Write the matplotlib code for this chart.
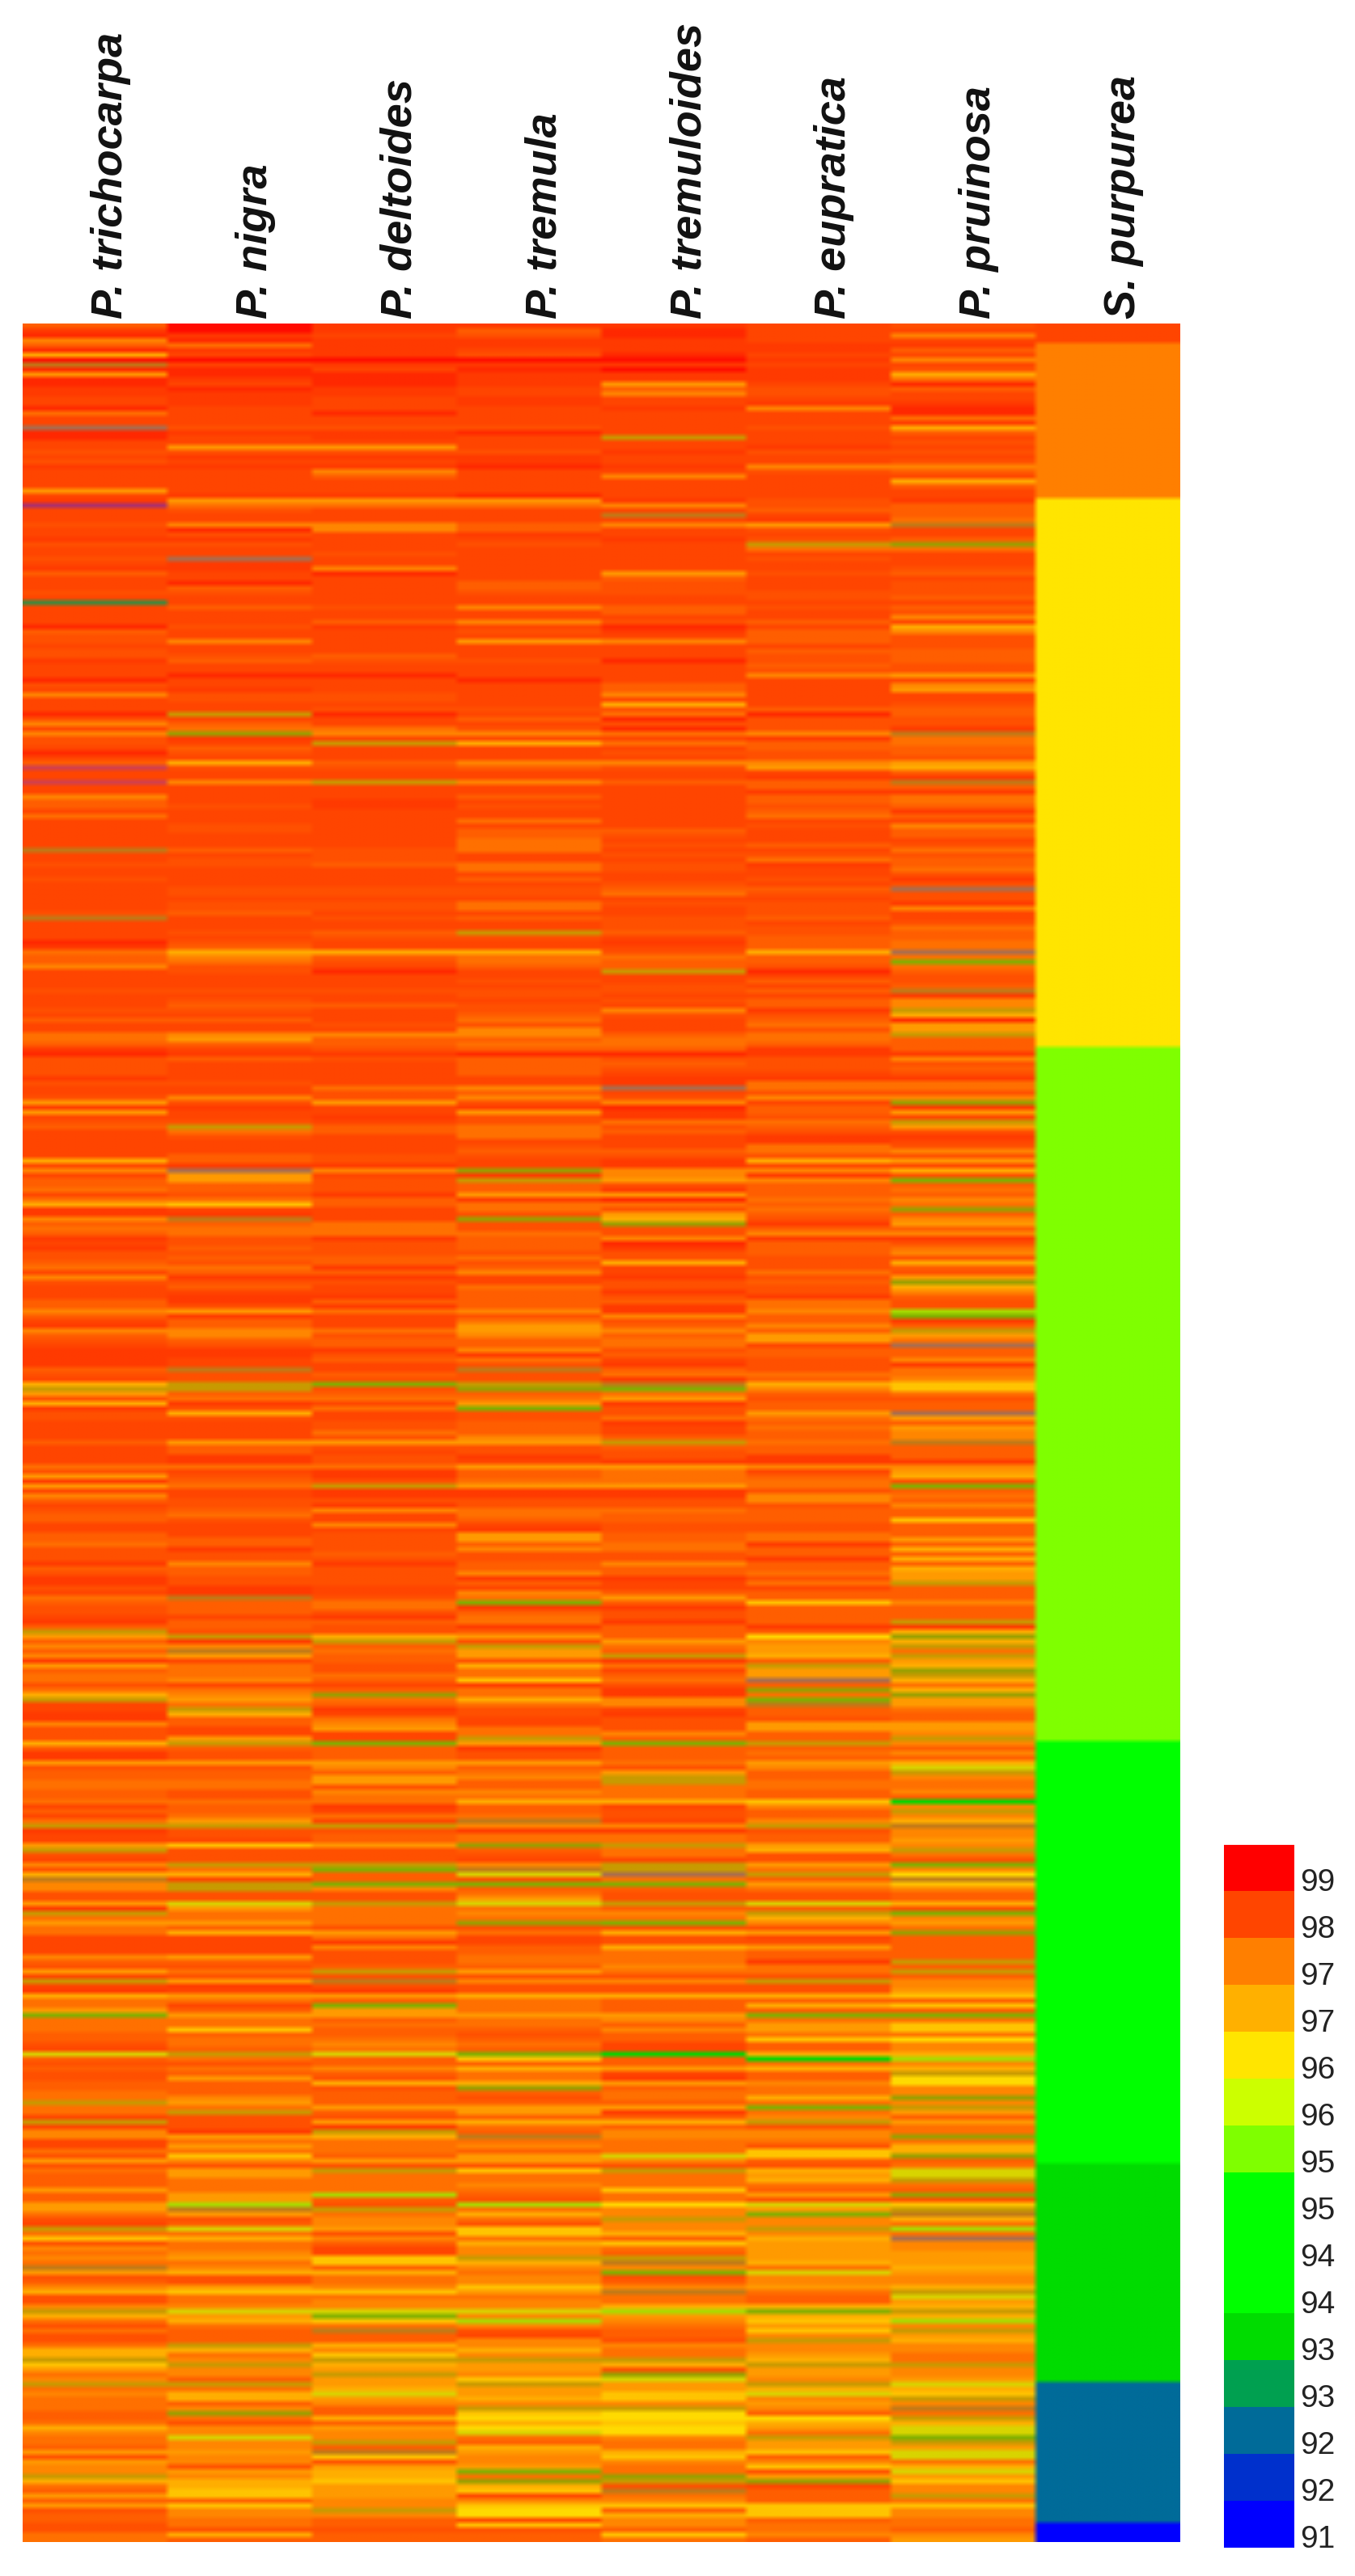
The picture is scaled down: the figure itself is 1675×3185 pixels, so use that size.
import matplotlib
matplotlib.use('Agg')
import matplotlib.pyplot as plt
import numpy as np
from matplotlib.colors import ListedColormap

plt.rcParams['font.family'] = ['Liberation Sans', 'DejaVu Sans']

species = ['P. trichocarpa', 'P. nigra', 'P. deltoides', 'P. tremula',
           'P. tremuloides', 'P. eupratica', 'P. pruinosa', 'S. purpurea']

# one letter = one shade, top to bottom
letters = 'abcdefghijklmnopqrstuvwABCDEGL'
shades = ['#FF0C00', '#FF2800', '#FF3A00', '#FF4500', '#FF5000', '#FF5E00', '#FF7000', '#FF8600',
          '#FF9A00', '#FFAE00', '#FFC400', '#FFDA00', '#D8D400', '#A8DC00', '#80B000', '#00D800',
          '#C89A00', '#C07A18', '#A86E50', '#A83070', '#98A000', '#3A8A40', '#D04050',
          '#7FFF00', '#00FF00', '#00DC00', '#006B99', '#0000FF', '#FF7F00', '#FFE500']

trichocarpa = [
    'fcbhfbjarb ibbccddbgd dsbbddedec ddddidctdd deddcedded',
    'cfdddedvdd ddbfeedeec dddbedhddd behdheedbd fwddwddhff',
    'dgddddddrd deddeddddd derddddbcg ffhddddedd dedfddggfc',
    'beeeecedde icidefdddd ddjdhdffgd gjcchfgfcd ceefgdhedd',
    'dffhfdchfe dccccfedjq iejceedddd fddddgeici dhfdeffddf',
    'fgeeecfecc edgfeedcfq ifhfhcifgg egjqddcche eejfccieff',
    'ggffgdfdgq cddiqedhej rhheeicqgi ggddddhfei dqdcjggiog',
    'ggffedmfef eeffggqggd qdhhddgeie gfffiffiig edqgkehghg',
    'riefhjeehq jgegeegjjq kighqghggg ffgjhggfie ihhqjgfifi effeegg',
]
nigra = [
    'aacbgcdadb bcdbcccddd decddiecdc dddddciged dhbeceddsc',
    'cddbfeddfd ddeddhddef ddbddceedd qdfgucdfed jeddhdddde',
    'dddeedddfd eeddddeede efdddedefj hgeedddede fedfddhifd',
    'cfddddeddh ecddeqgedd dffcsiiffe gkdcrfggee fefegfcefd',
    'cceicffhhf eccddreeqq fgcejedddd iffccgdefg ddeefgeddd',
    'ffceehffee ccrfffdffe qchridgggh dghigqjffd diqfeeieff',
    'ggeegffgiq eedkeeeqgj dqqeemiggi fjddddifeg eicdigdfig',
    'gkfggfqgeg fifffhigqe eecigigkhe iigggiinri efmgjgghig',
    'hjeeikgghm ijgfffqjgh qhhfqgjjfh ugehhmhhih heihjjkkfk hhggejf',
]
deltoides = [
    'ccdccccacd bbbccdddbd deccdiecdc hfdddcigdd dhhddddedd',
    'hbdddddded dfcdddddfe ddbdddeede bddghdqddd feddqdddcc',
    'ddddddddee efddddeede ededdfeddj fedbdddedd fdddedhffe',
    'cedddddgee iddcdffddd deechdeeec ffdddgggce eeffcfcedd',
    'cfcgdddgef fcefddfeoe fgdgddeege iedeegcceq ccechddhde',
    'eeefeceeee ddeggecfee jqfgffeegf dfugfcdghi ddofffihfi',
    'iehggcdgdq effieeeqof foheeqgggg eigcheeefq erecifoiif',
    'gffghgmffh fejefffife icqjgggfie qggggnfeqg hhiehfddkk',
    'fjgghkghhm okgrffjhkq jiqiijmihf fjfihhqfrk eijjkiiihh qhffeff',
]
tremula = [
    'cfeccdeacb cccddccddd debdddeccb dddddbigdd dffcdedddd',
    'dddffeddhd dhdediddde dddbddddde dfdehdjddd hfddhddfde',
    'ddgdffgggd dggdfdeedg gdfddqeddj ggfddedeed eefgehhfgf',
    'bffffddhfh ecieegggde fedducqffi cggeueegff fegefhddgf',
    'fffhegiihf fhcgereequ fgioeefffh ieecdiffgi cceeggfdci',
    'ifheeffhcf dhgocfggcf ieqiiejggk cggjgeeddg gqiceeifgh',
    'ffhgjffgrh cggufedhrm eofgimghgu egddffggfi eheejgggig',
    'gfefgfokfj ggjufefiif jgfrghfiie kgghgfengj gekkgjhhqj',
    'hghhkighhm hnhedhhjhq iihkqiijhq kljlmgfjih hiogujkdhk lldkeff',
]
tremuloides = [
    'cbbcccbaca ccifhddcdd dddqddcddc dhddddchdr dhddcddddd',
    'difeeeddff debcdhdddb ddddffhdje gbebgdgded heddfddddd',
    'ddddfedede deeddefgde ddeeefdcde gffqddeede dhedddfggf',
    'befedccsde hbccgefddd fecchhieci bgeijueehb ceejddceec',
    'efcchefhfg gefdcfgcro giceegcddf qfeecigggi cceegffeef',
    'fggeehffcd dfifceecff figfqcgdfg ecchhdceee hfofffgeiq',
    'qgggjdeedh cggqggdqqs gofeeqfhgo ejeejggghg eheejfffih',
    'fhffddpffi dcifggficf jfhhgggmhe qgggkgglhh qhhjfkgfqr',
    'hoefhrggjn ihgffehggq jeumiikkhq llkllhggjk hgguqerghk fjhhfkg',
]
eupratica = [
    'ddddccdcdc ccdeedchdd dedddceddh edddddeefd ciedeqgded',
    'dedddeeded dfdfffdfee fehddddddf beeehcffee hidcffcffe',
    'fgdedddfde gcddedfede eefdeefffj ffebdfdfdf fcefgeggfc',
    'ceeedcggeh dffegfeccg gejdhchfff gfgfecfhcf ffeeegefee',
    'cgghffhfii dffeeegfjh feffigfgff gffcchdfgg ehhefffeeg',
    'gcffcffgeg dffkffffcf lhiijfqiis fugorffeii ffqfgfihff',
    'ggffkhffhq effijeeigq figeemfqjh eideiffcgg eqeejfjfog',
    'iigkffjpgj ffhggjgogh qehhgekkfe jijgfiemio hhqhjiiiij',
    'gmhhigffjo jkikhqhhij qiihqjmhih fljigqiikf hkeiudfffk kkfgghf',
]
pruinosa = [
    'edhdcfdhde jgbfddcbbg cjfdededeh fdjfddcfff grddfugddd',
    'efdeeefdfe hdjheeefff eeidhiddef feecrggffe ijfcrfcggf',
    'cfdhffdege ffgeceseec hddegffggs gogfeefrch hqjbiiqfff',
    'chefecggeh ucidqiecde heidjeofgf hgufhifhce ghejfeiujh',
    'feenocfqig sffhcgghkk geffsifihh rfffchijeo fgfhffkfff',
    'ifjfjfjiiq fffhfffqcj ujqgqijuqj gjuiigffii hqhfhfjmqh',
    'gghfphqhjr hhihqgeohl rkhffjeohi gufffffqfq fhhikfkfog',
    'kkglhhjnhj qllhhuhqif iggugjjufg mmqgfuekqr jgngshhiii',
    'jihhjqmijq jnhqijhhgg qhhimjkqhr gqjmmoqimm gjmikhhqgk hhggfhi',
]
# S. purpurea is solid blocks: shade, number of rows
purpurea_shades = ['d', 'G', 'L', 'A', 'B', 'C', 'D', 'E']
purpurea_rows = [4, 32, 113, 143, 87, 45, 29, 4]

bar_colors = ['#FF0000', '#FF4500', '#FF7F00', '#FFB000', '#FFE500', '#CCFF00', '#7FFF00', '#00FF00',
              '#00FF00', '#00FF00', '#00DC00', '#00A050', '#006B99', '#0030CC', '#0000FF']
bar_labels = ['99', '98', '97', '97', '96', '96', '95', '95', '94', '94', '93', '93', '92', '92', '91']


def to_row(segments):
    # every zoomed strip is 50 rows, the last one 57; pad or cut small miscounts
    out = ''
    for i, seg in enumerate(segments):
        seg = seg.replace(' ', '')
        n = 57 if i == len(segments) - 1 else 50
        out += (seg + seg[-1] * n)[:n]
    return [letters.index(c) for c in out]


columns = [to_row(c) for c in [trichocarpa, nigra, deltoides, tremula, tremuloides, eupratica, pruinosa]]
last = []
for s, n in zip(purpurea_shades, purpurea_rows):
    last += [letters.index(s)] * n
columns.append(last)
grid = np.array(columns).T

fig = plt.figure(figsize=(16.75, 31.85), dpi=100)
W, H = 1675, 3185

ax = fig.add_axes([28 / W, 1 - 3143 / H, (1459 - 28) / W, (3143 - 400) / H])
cmap = ListedColormap(shades)
# repeat columns so the smoothing only softens the column edges a little
ax.imshow(np.repeat(grid, 24, axis=1), cmap=cmap, vmin=-0.5, vmax=len(shades) - 0.5, aspect='auto',
          interpolation='bilinear', interpolation_stage='rgba',
          extent=(0, len(species), grid.shape[0], 0))
ax.set_axis_off()
for i, name in enumerate(species):
    ax.text(i + 0.61, -1, name, rotation=90, ha='center', va='bottom', fontsize=39,
            style='italic', weight='bold', color='#111111')

cax = fig.add_axes([1513 / W, 1 - 3150 / H, 87 / W, (3150 - 2281) / H])
cax.imshow(np.arange(len(bar_colors))[:, None], cmap=ListedColormap(bar_colors), aspect='auto',
           interpolation='nearest')
cax.set_xticks([])
cax.yaxis.tick_right()
cax.set_yticks(np.arange(len(bar_labels)) + 0.25)
cax.set_yticklabels(bar_labels, fontsize=28, color='#222222')
cax.tick_params(axis='y', length=0, pad=5)
for s in cax.spines.values():
    s.set_visible(False)

fig.savefig('out.png', dpi=100)
